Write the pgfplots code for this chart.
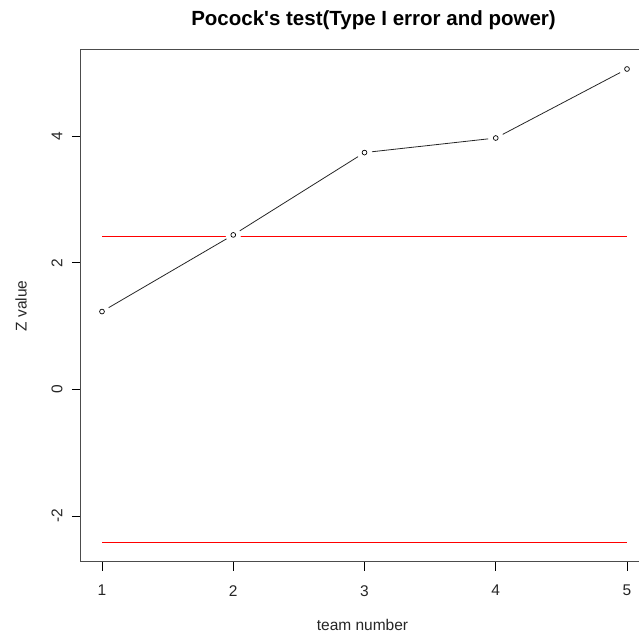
\documentclass[border=0pt]{standalone}
\usepackage{pgfplots}
\pgfplotsset{compat=1.18}
\usepackage{fontspec}
\setmainfont{Liberation Sans}

\pgfplotstableread{
team z
1 1.23
2 2.44
3 3.74
4 3.97
5 5.06
}\zvalues

\begin{document}
\begin{tikzpicture}
\begin{axis}[
    at={(81pt,74.3pt)}, anchor=south west,
    scale only axis,
    width=567pt, height=511.7pt,
    xmin=0.84, xmax=5.16,
    ymin=-2.72, ymax=5.36,
    xtick={1,2,3,4,5},
    ytick={-2,0,2,4},
    tick pos=left,
    tick align=outside,
    major tick length=9pt,
    tick style={black, line width=0.8pt},
    axis line style={black!70, line width=1pt},
    /pgf/number format/assume math mode=true,
    tick label style={font=\fontsize{15.5}{18}\selectfont, text=black!85},
    xticklabel style={anchor=north, yshift=-11pt},
    yticklabel style={rotate=90, anchor=south, yshift=6pt},
    xlabel={team number},
    ylabel={Z value},
    label style={font=\fontsize{15.5}{18}\selectfont, text=black!85},
    xlabel style={at={(axis description cs:0.5,0)}, anchor=center, yshift=-63pt, xshift=-2pt},
    ylabel style={at={(axis description cs:0,0.5)}, anchor=center, yshift=60pt},
    title={Pocock\textquotesingle s test(Type I error and power)},
    title style={font=\fontsize{20.5}{24}\selectfont\bfseries, at={(axis description cs:0.5,1)}, anchor=center, yshift=24pt, xshift=9pt},
]
% line through the points
\addplot[black!85, line width=0.8pt] table[x=team, y=z] {\zvalues};
% white discs leave gaps round the points, as in R type="b"
\addplot[only marks, mark=*, mark size=7.5pt, mark options={draw=white, fill=white}] table[x=team, y=z] {\zvalues};
\addplot[only marks, mark=o, mark size=2.4pt, mark options={draw=black, line width=0.7pt}] table[x=team, y=z] {\zvalues};
% Pocock boundaries
\addplot[red, line width=1pt] coordinates {(1,2.413) (5,2.413)};
\addplot[red, line width=1pt] coordinates {(1,-2.413) (5,-2.413)};
\end{axis}
\pgfresetboundingbox
\useasboundingbox (0pt,0pt) rectangle (639pt,636pt);
\end{tikzpicture}
\end{document}
